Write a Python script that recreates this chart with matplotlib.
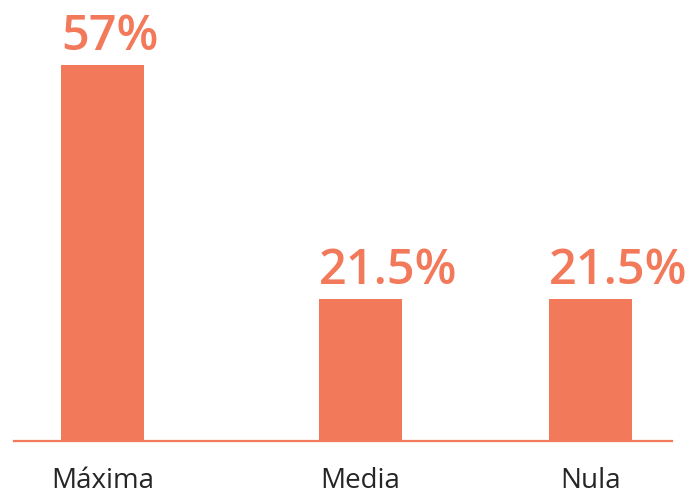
import matplotlib
matplotlib.use("Agg")
import matplotlib.pyplot as plt

categories = ["Máxima", "Media", "Nula"]
values = [57, 21.5, 21.5]
labels = ["57%", "21.5%", "21.5%"]
x_pos = [0, 1.12, 2.12]

color = "#F2795A"
bar_w = 0.36

fig = plt.figure(figsize=(6.9, 4.98), dpi=100)
W, H = 690, 498
base_px = 441
scale = 6.6
ymax = 60
top_px = base_px - ymax * scale
ax = fig.add_axes([14 / W, (H - base_px) / H, (672 - 14) / W, (base_px - top_px) / H])

ax.bar(x_pos, values, width=bar_w, color=color, zorder=2)
ax.set_xlim((14 - 102.5) / 230, (672 - 102.5) / 230)
ax.set_ylim(0, ymax)

for x, v, t in zip(x_pos, values, labels):
    ax.annotate(t, (x - bar_w / 2, v), xytext=(0, 11), textcoords="offset points",
                ha="left", va="baseline", fontsize=35, fontweight="semibold",
                color=color, family="Open Sans", clip_on=False)

for s in ["top", "right", "left"]:
    ax.spines[s].set_visible(False)
ax.spines["bottom"].set_color(color)
ax.spines["bottom"].set_linewidth(1.6)
ax.set_yticks([])
ax.set_xticks(x_pos)
ax.set_xticklabels(categories, fontsize=20, family="Open Sans", color="#262626")
ax.tick_params(axis="x", length=0, pad=19)

fig.savefig("out.png", dpi=100)
